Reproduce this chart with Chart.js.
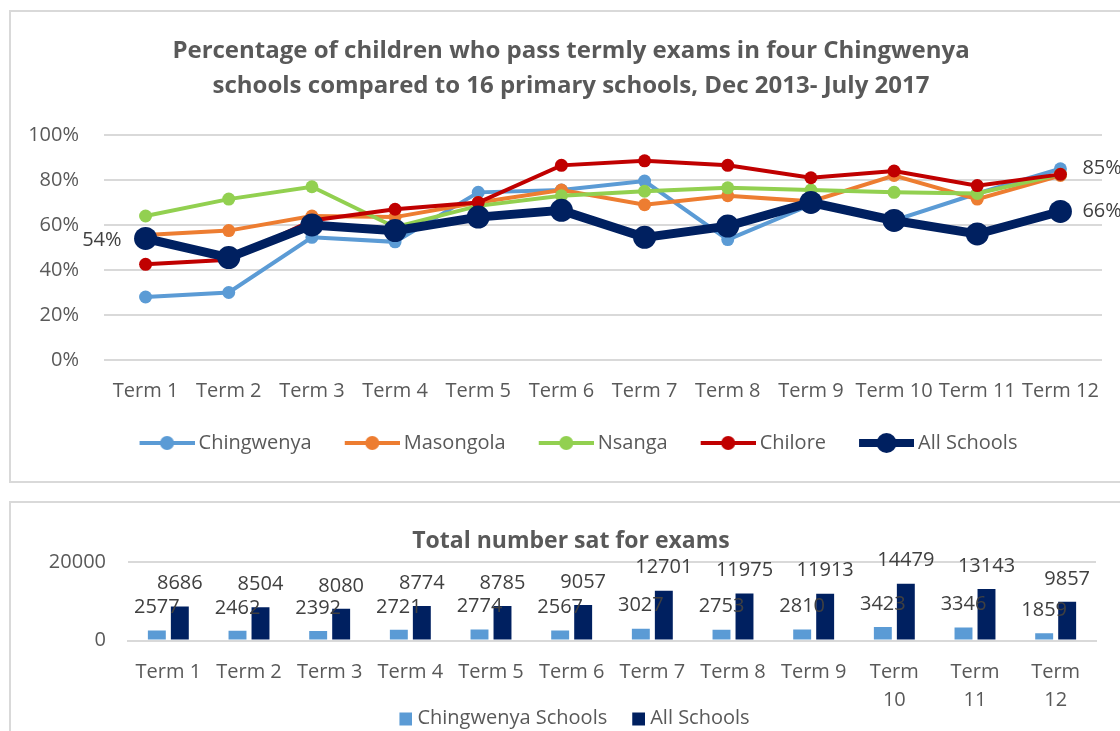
<!DOCTYPE html>
<html>
<head>
<meta charset="utf-8">
<script src="https://cdn.jsdelivr.net/npm/chart.js@4.4.1/dist/chart.umd.min.js"></script>
<style>
  body { margin: 0; background: #fff; width: 1120px; height: 731px; overflow: hidden; position: relative; }
  .box { position: absolute; border: 2px solid #d9d9d9; box-sizing: border-box; }
  #topBox { left: 9px; top: 10px; width: 1140px; height: 473px; }
  #bottomBox { left: 9px; top: 501px; width: 1140px; height: 260px; }
  .wrap { position: absolute; left: 0; width: 1120px; }
  #topWrap { top: 0; height: 482px; }
  #bottomWrap { top: 501px; height: 240px; }
</style>
</head>
<body>
<div class="box" id="topBox"></div>
<div class="box" id="bottomBox"></div>
<div class="wrap" id="topWrap"><canvas id="passChart"></canvas></div>
<div class="wrap" id="bottomWrap"><canvas id="satChart"></canvas></div>
<script>
const terms = ['Term 1', 'Term 2', 'Term 3', 'Term 4', 'Term 5', 'Term 6', 'Term 7', 'Term 8', 'Term 9', 'Term 10', 'Term 11', 'Term 12'];

// pass rates (%)
const chingwenya = [28, 30, 54.5, 52.5, 74.5, 75.5, 79.5, 53.5, 69, 62, 74, 85];
const masongola = [55.5, 57.5, 64, 63.5, 70, 75.5, 69, 73, 70.5, 82, 71.5, 82];
const nsanga = [64, 71.5, 77, 59, 68.5, 73, 75, 76.5, 75.5, 74.5, 74, 82.5];
const chilore = [42.5, 44.5, 62, 67, 70, 86.5, 88.5, 86.5, 81, 84, 77.5, 82.5];
const allSchools = [54, 45.5, 60, 57.5, 63.5, 66.5, 54.5, 59.5, 70, 62, 56, 66];
const percentTicks = [0, 20, 40, 60, 80, 100];

// number sat for exams
const satChingwenya = [2577, 2462, 2392, 2721, 2774, 2567, 3027, 2753, 2810, 3423, 3346, 1859];
const satAll = [8686, 8504, 8080, 8774, 8785, 9057, 12701, 11975, 11913, 14479, 13143, 9857];
const countTicks = [0, 20000];

const FONT = '"Open Sans", Lato, sans-serif';
const GREY = '#595959';

// line + marker swatch, transparent margin on the left gives the gap between items
function lineSwatch(color, lineW, r) {
  const c = document.createElement('canvas');
  c.width = 64; c.height = 24;
  const g = c.getContext('2d');
  g.strokeStyle = color; g.lineWidth = lineW;
  g.beginPath(); g.moveTo(9, 12); g.lineTo(64, 12); g.stroke();
  g.fillStyle = color;
  g.beginPath(); g.arc(36.5, 12, r, 0, Math.PI * 2); g.fill();
  return c;
}

function boxSwatch(color) {
  const c = document.createElement('canvas');
  c.width = 43; c.height = 20;
  const g = c.getContext('2d');
  g.fillStyle = color;
  g.fillRect(30, 4, 13, 13);
  return c;
}

// the excel chart frame is wider than the page, so title and legend sit right of centre
const shiftBoxes = {
  id: 'shiftBoxes',
  afterLayout(chart, args, opts) {
    if (chart.titleBlock) { chart.titleBlock.left += opts.title; chart.titleBlock.right += opts.title; }
    if (chart.legend) { chart.legend.left += opts.legend; chart.legend.right += opts.legend; }
  }
};

const pointLabels = {
  id: 'pointLabels',
  afterDatasetsDraw(chart, args, opts) {
    if (!opts.items) return;
    const ctx = chart.ctx;
    ctx.save();
    ctx.font = '20px ' + FONT;
    ctx.fillStyle = '#404040';
    ctx.textBaseline = 'middle';
    opts.items.forEach(item => {
      const pt = chart.getDatasetMeta(item.dataset).data[item.index];
      const v = chart.data.datasets[item.dataset].data[item.index];
      const txt = Math.round(v) + '%';
      if (item.side === 'left') {
        ctx.textAlign = 'right';
        ctx.fillText(txt, pt.x - 24, pt.y + 2);
      } else {
        ctx.textAlign = 'left';
        ctx.fillText(txt, pt.x + 22, pt.y);
      }
    });
    ctx.restore();
  }
};

const barLabels = {
  id: 'barLabels',
  afterDatasetsDraw(chart, args, opts) {
    if (!opts.show) return;
    const ctx = chart.ctx;
    ctx.save();
    ctx.font = '20px ' + FONT;
    ctx.fillStyle = '#404040';
    ctx.textAlign = 'center';
    ctx.textBaseline = 'middle';
    chart.data.datasets.forEach((ds, i) => {
      chart.getDatasetMeta(i).data.forEach((bar, j) => {
        ctx.fillText(ds.data[j], bar.x, bar.y - 23);
      });
    });
    ctx.restore();
  }
};

const series = [
  { label: 'Chingwenya', data: chingwenya, color: '#5B9BD5', w: 4, r: 6.5 },
  { label: 'Masongola', data: masongola, color: '#ED7D31', w: 4, r: 6.5 },
  { label: 'Nsanga', data: nsanga, color: '#92D050', w: 4, r: 6.5 },
  { label: 'Chilore', data: chilore, color: '#C00000', w: 4, r: 6.5 },
  { label: 'All Schools', data: allSchools, color: '#002060', w: 9, r: 11.5 }
];

new Chart(document.getElementById('passChart'), {
  type: 'line',
  data: {
    labels: terms,
    datasets: series.map((s, i) => ({
      label: s.label,
      data: s.data,
      borderColor: s.color,
      backgroundColor: s.color,
      borderWidth: s.w,
      pointRadius: s.r,
      pointHoverRadius: s.r,
      pointBorderWidth: 0,
      tension: 0,
      order: series.length - i
    }))
  },
  options: {
    responsive: true,
    maintainAspectRatio: false,
    animation: false,
    layout: { padding: { top: 34, right: 18, bottom: 19, left: 0 } },
    plugins: {
      title: {
        display: true,
        text: ['Percentage of children who pass termly exams in four Chingwenya', 'schools compared to 16 primary schools, Dec 2013- July 2017'],
        color: GREY,
        font: { family: FONT, size: 24, weight: 'bold', lineHeight: 1.458 },
        padding: { top: 0, bottom: 31 }
      },
      legend: {
        position: 'bottom',
        labels: {
          usePointStyle: true,
          pointStyleWidth: 52,
          padding: 30,
          color: GREY,
          font: { family: FONT, size: 20 },
          generateLabels: chart => chart.data.datasets.map((ds, i) => ({
            text: ds.label,
            pointStyle: lineSwatch(series[i].color, series[i].w === 9 ? 8 : 4, series[i].w === 9 ? 10 : 7),
            fillStyle: ds.borderColor,
            strokeStyle: ds.borderColor,
            lineWidth: 0,
            fontColor: GREY,
            datasetIndex: i
          }))
        }
      },
      tooltip: { enabled: false },
      shiftBoxes: { title: 20, legend: 26 },
      pointLabels: {
        items: [
          { dataset: 4, index: 0, side: 'left' },
          { dataset: 0, index: 11, side: 'right' },
          { dataset: 4, index: 11, side: 'right' }
        ]
      }
    },
    scales: {
      x: {
        offset: true,
        afterFit: s => { s.height = 43; },
        grid: { display: false, drawTicks: false },
        border: { display: false },
        ticks: { color: GREY, font: { family: FONT, size: 20 }, padding: 19, maxRotation: 0, autoSkip: false }
      },
      y: {
        min: 0, max: 100,
        afterFit: s => { s.width = 104; },
        afterBuildTicks: s => { s.ticks = percentTicks.map(v => ({ value: v })); },
        grid: { color: '#D9D9D9', lineWidth: 2, drawTicks: false },
        border: { display: false },
        ticks: { color: GREY, font: { family: FONT, size: 20 }, padding: 25, callback: v => v + '%' }
      }
    }
  },
  plugins: [pointLabels, shiftBoxes]
});

const barColors = ['#5B9BD5', '#002060'];

new Chart(document.getElementById('satChart'), {
  type: 'bar',
  data: {
    labels: terms.map(t => t.length > 6 ? t.split(' ') : t),
    datasets: [
      { label: 'Chingwenya Schools', data: satChingwenya, backgroundColor: barColors[0] },
      { label: 'All Schools', data: satAll, backgroundColor: barColors[1] }
    ]
  },
  options: {
    responsive: true,
    maintainAspectRatio: false,
    animation: false,
    datasets: { bar: { categoryPercentage: 0.57, barPercentage: 0.78 } },
    layout: { padding: { top: 26, right: 24, bottom: 2.5, left: 0 } },
    plugins: {
      title: {
        display: true,
        text: 'Total number sat for exams',
        color: GREY,
        font: { family: FONT, size: 23, weight: 'bold', lineHeight: 1.22 },
        padding: { top: 0, bottom: 7 }
      },
      legend: {
        position: 'bottom',
        labels: {
          usePointStyle: true,
          pointStyleWidth: 33,
          padding: 0,
          color: GREY,
          font: { family: FONT, size: 20 },
          generateLabels: chart => chart.data.datasets.map((ds, i) => ({
            text: ds.label,
            pointStyle: boxSwatch(barColors[i]),
            fillStyle: barColors[i],
            strokeStyle: barColors[i],
            lineWidth: 0,
            fontColor: GREY,
            datasetIndex: i
          }))
        }
      },
      tooltip: { enabled: false },
      shiftBoxes: { title: 23, legend: 14 },
      barLabels: { show: true }
    },
    scales: {
      x: {
        grid: { display: false, drawTicks: false },
        border: { display: true, color: '#D9D9D9', width: 2 },
        afterFit: s => { s.height = 68; },
        ticks: { color: GREY, font: { family: FONT, size: 20, lineHeight: 1.4 }, padding: 18, maxRotation: 0, autoSkip: false }
      },
      y: {
        min: 0, max: 20000,
        afterFit: s => { s.width = 128; },
        afterBuildTicks: s => { s.ticks = countTicks.map(v => ({ value: v })); },
        grid: { color: '#D9D9D9', lineWidth: 2, drawTicks: false },
        border: { display: false },
        ticks: { color: GREY, font: { family: FONT, size: 20 }, padding: 22, callback: v => String(v) }
      }
    }
  },
  plugins: [barLabels, shiftBoxes]
});
</script>
</body>
</html>
